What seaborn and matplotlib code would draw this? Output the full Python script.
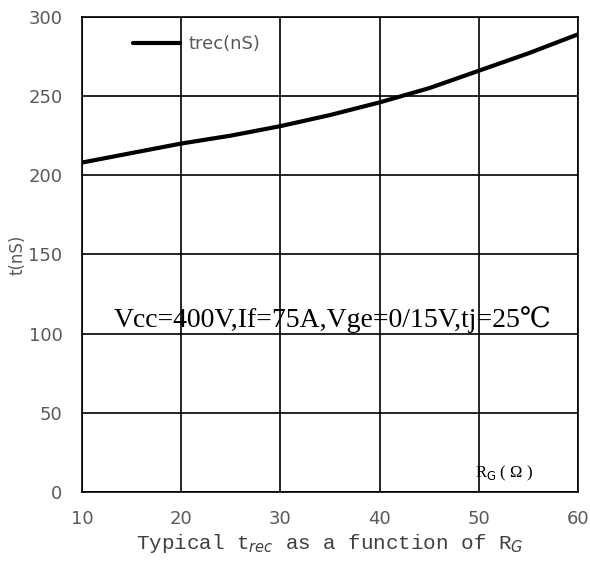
import numpy as np
import pandas as pd
import seaborn as sns
import matplotlib.pyplot as plt

# values
rg = [10, 15, 20, 25, 30, 35, 40, 45, 50, 55, 60]
trec = [208, 214, 220, 225, 231, 238, 246, 255, 266, 277, 289]
xticks = [10, 20, 30, 40, 50, 60]
yticks = [0, 50, 100, 150, 200, 250, 300]

df = pd.DataFrame({"RG": rg, "trec(nS)": trec})

sns.set_style("white")
fig = plt.figure(figsize=(5.9, 5.61), dpi=100)
ax = fig.add_axes([0.139, 0.123, 0.841, 0.847])

sns.lineplot(data=df, x="RG", y="trec(nS)", color="black", linewidth=3,
             label="trec(nS)", ax=ax)

ax.set_xlim(10, 60)
ax.set_ylim(0, 300)
ax.set_xticks(xticks)
ax.set_yticks(yticks)
ax.grid(True, color="black", linewidth=1.2)
for s in ax.spines.values():
    s.set_color("black")
    s.set_linewidth(1.2)
ax.tick_params(axis="both", length=0, labelsize=13, labelcolor="#595959")
ax.tick_params(axis="x", pad=13)
ax.tick_params(axis="y", pad=14)

ax.set_ylabel("t(nS)", fontsize=12, color="#595959", labelpad=1)
ax.set_xlabel("Typical t$_{rec}$ as a function of R$_G$", family="Liberation Mono",
              fontsize=15, color="#404040", labelpad=3)

leg = ax.legend(loc="upper left", bbox_to_anchor=(0.07, 0.995), frameon=False,
                fontsize=13, handlelength=2.6, handletextpad=0.5)
for t in leg.get_texts():
    t.set_color("#595959")

ax.text(35.3, 104, "Vcc=400V,If=75A,Vge=0/15V,tj=25℃", ha="center", va="baseline",
        family=["Liberation Serif", "DejaVu Serif"], fontsize=20, color="black")
ax.text(49.6, 9, "R$_\\mathrm{G}$ ( Ω )", family=["Liberation Serif", "DejaVu Serif"],
        fontsize=12, color="black")

fig.savefig("out.png", dpi=100)
